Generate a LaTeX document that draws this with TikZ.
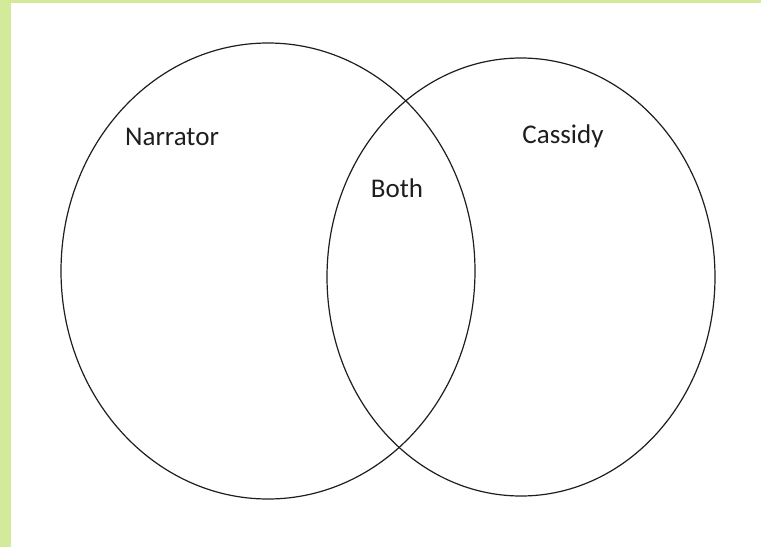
\documentclass[tikz,border=0pt]{standalone}
\usepackage{fontspec}
\setmainfont{Carlito}
\usepackage{xcolor}
\usetikzlibrary{shapes.geometric}
\definecolor{VennGreen}{HTML}{D3EA9B}
\definecolor{VennLine}{HTML}{1E1E1E}

\begin{document}
\begin{tikzpicture}[x=1pt,y=-1pt,
	set/.style={draw=VennLine,line width=1.2pt,ellipse,inner sep=0pt},
	setlabel/.style={anchor=base,font=\fontsize{27}{30}\selectfont,text=VennLine}]
		\useasboundingbox (0,0) rectangle (761,547);
		\fill[white] (0,0) rectangle (761,547);
		\fill[VennGreen] (0,0) rectangle (761,3);
		\fill[VennGreen] (0,0) rectangle (11,547);
		\node[set,minimum width=414pt,minimum height=456pt] (narrator) at (268,271) {};
		\node[set,minimum width=388pt,minimum height=438pt] (cassidy) at (521,277) {};
		\node[setlabel] (narratorlabel) at (172,145) {Narrator};
		\node[setlabel] (bothlabel) at (397,197) {Both};
		\node[setlabel] (cassidylabel) at (563,143) {Cassidy};
	\end{tikzpicture}
\end{document}
